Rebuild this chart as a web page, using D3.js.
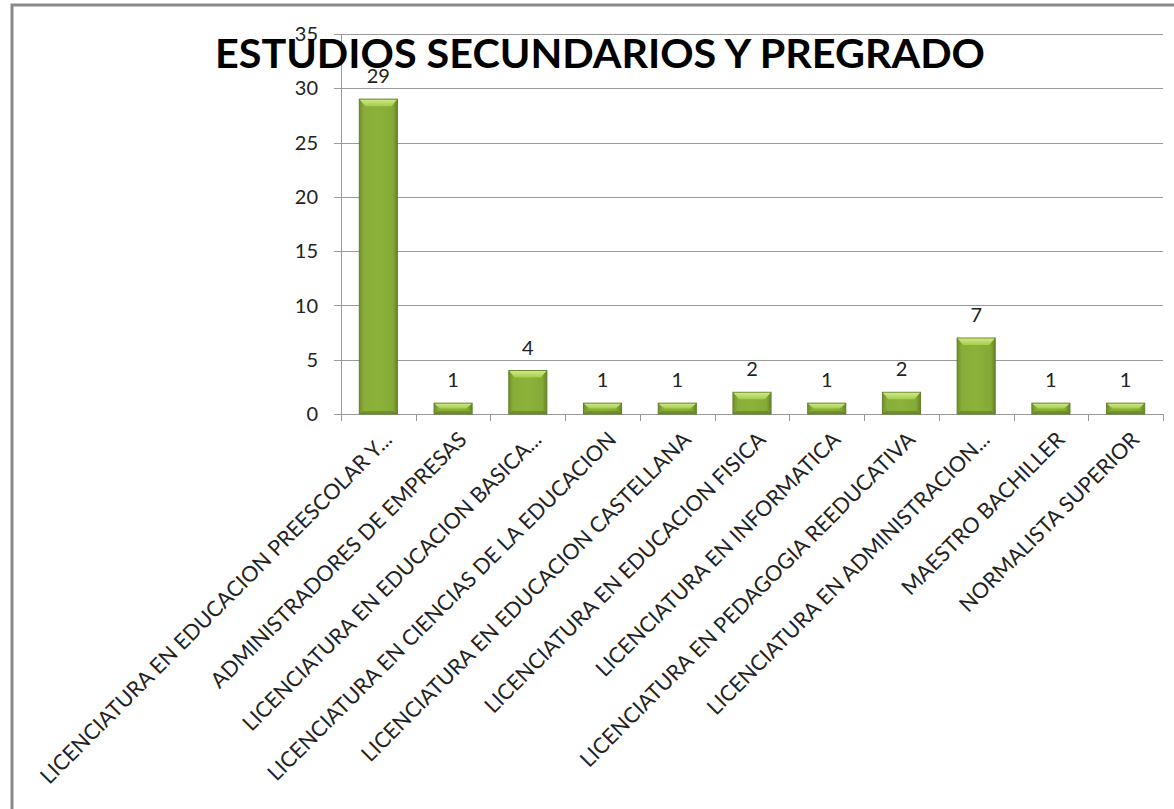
<!DOCTYPE html>
<html><head><meta charset="utf-8">
<script src="https://cdn.jsdelivr.net/npm/d3@7"></script>
<style>html,body{margin:0;padding:0;background:#fff;}</style>
</head><body>
<svg id="c" width="1174" height="809"></svg>
<script>
const categories = [
  "LICENCIATURA EN EDUCACION PREESCOLAR Y...",
  "ADMINISTRADORES DE EMPRESAS",
  "LICENCIATURA EN EDUCACION BASICA...",
  "LICENCIATURA EN CIENCIAS DE LA EDUCACION",
  "LICENCIATURA EN EDUCACION CASTELLANA",
  "LICENCIATURA EN EDUCACION FISICA",
  "LICENCIATURA EN INFORMATICA",
  "LICENCIATURA EN PEDAGOGIA REEDUCATIVA",
  "LICENCIATURA EN ADMINISTRACION...",
  "MAESTRO BACHILLER",
  "NORMALISTA SUPERIOR"
];
const values = [29, 1, 4, 1, 1, 2, 1, 2, 7, 1, 1];
const yTicks = [0, 5, 10, 15, 20, 25, 30, 35];
const chartTitle = "ESTUDIOS SECUNDARIOS Y PREGRADO";

(function() {
const svg = d3.select("#c");
const font = "Lato, 'Open Sans', sans-serif";
const pl = 341, pr = 1163, pt = 34, pb = 414;

const x = d3.scaleBand().domain(categories).range([pl, pr]).paddingInner(0.49).paddingOuter(0.245);
const xb = d3.scaleBand().domain(categories).range([pl, pr]);
const y = d3.scaleLinear().domain([0, 35]).range([pb, pt]);

svg.append("path").attr("d", "M12,809 V5 H1174").attr("fill", "none").attr("stroke", "#8a8a8a").attr("stroke-width", 3);

const defs = svg.append("defs");
const g1 = defs.append("linearGradient").attr("id", "body").attr("x1", 0).attr("x2", 1).attr("y1", 0).attr("y2", 0);
g1.append("stop").attr("offset", 0).attr("stop-color", "#6f8f2b");
g1.append("stop").attr("offset", 0.12).attr("stop-color", "#88ad38");
g1.append("stop").attr("offset", 0.5).attr("stop-color", "#8cb23b");
g1.append("stop").attr("offset", 0.88).attr("stop-color", "#84a936");
g1.append("stop").attr("offset", 1).attr("stop-color", "#668527");
const g2 = defs.append("linearGradient").attr("id", "topb").attr("x1", 0).attr("x2", 0).attr("y1", 0).attr("y2", 1);
g2.append("stop").attr("offset", 0).attr("stop-color", "#cde985");
g2.append("stop").attr("offset", 1).attr("stop-color", "#a6cc4c");

svg.append("g").selectAll("line").data(yTicks).join("line")
  .attr("x1", pl - 7).attr("x2", pr)
  .attr("y1", d => Math.round(y(d)) + 0.5).attr("y2", d => Math.round(y(d)) + 0.5)
  .attr("stroke", "#9a9a9a").attr("stroke-width", 1);

svg.append("line").attr("x1", pl + 0.5).attr("x2", pl + 0.5).attr("y1", pt).attr("y2", pb + 7)
  .attr("stroke", "#9a9a9a");
svg.append("g").selectAll("text").data(yTicks).join("text")
  .attr("x", 318).attr("y", d => y(d)).attr("dy", "0.36em")
  .attr("text-anchor", "end").attr("font-family", font).attr("font-size", 20).attr("fill", "#222")
  .text(d => d);

const bounds = categories.map(c => xb(c)).concat([pr]);
svg.append("g").selectAll("line").data(bounds).join("line")
  .attr("x1", d => Math.round(d) + 0.5).attr("x2", d => Math.round(d) + 0.5)
  .attr("y1", pb).attr("y2", pb + 7).attr("stroke", "#9a9a9a");

const bars = svg.append("g").selectAll("g").data(values).join("g");
bars.each(function(v, i) {
  const g = d3.select(this);
  const x0 = x(categories[i]), w = x.bandwidth();
  const yt = y(v), h = pb - yt;
  const bev = Math.min(7, h / 2);
  g.append("rect").attr("x", x0).attr("y", yt).attr("width", w).attr("height", h)
    .attr("fill", "url(#body)").attr("stroke", "#62802a").attr("stroke-width", 1);
  g.append("path").attr("d", `M${x0 + 0.5},${yt + 0.5} H${x0 + w - 0.5} L${x0 + w - 6},${yt + bev} H${x0 + 6} Z`)
    .attr("fill", "url(#topb)");
  g.append("path").attr("d", `M${x0},${pb} H${x0 + w} L${x0 + w - 4},${pb - Math.min(3, h/3)} H${x0 + 4} Z`)
    .attr("fill", "#5f7d25").attr("opacity", 0.6);
  g.append("text").attr("x", x0 + w / 2).attr("y", yt - 16)
    .attr("text-anchor", "middle").attr("font-family", font).attr("font-size", 20).attr("fill", "#222")
    .text(v);
});

svg.append("g").selectAll("text").data(categories).join("text")
  .attr("transform", d => `translate(${xb(d) + xb.bandwidth() / 2 + 15},${pb + 27}) rotate(-45)`)
  .attr("text-anchor", "end").attr("font-family", font).attr("font-size", 21.5).attr("fill", "#222")
  .text(d => d);

svg.append("text").attr("x", 600).attr("y", 68).attr("text-anchor", "middle")
  .attr("font-family", font).attr("font-weight", "bold").attr("font-size", 41).attr("fill", "#000")
  .attr("textLength", 770).attr("lengthAdjust", "spacingAndGlyphs")
  .text(chartTitle);
})();
</script>
</body></html>
